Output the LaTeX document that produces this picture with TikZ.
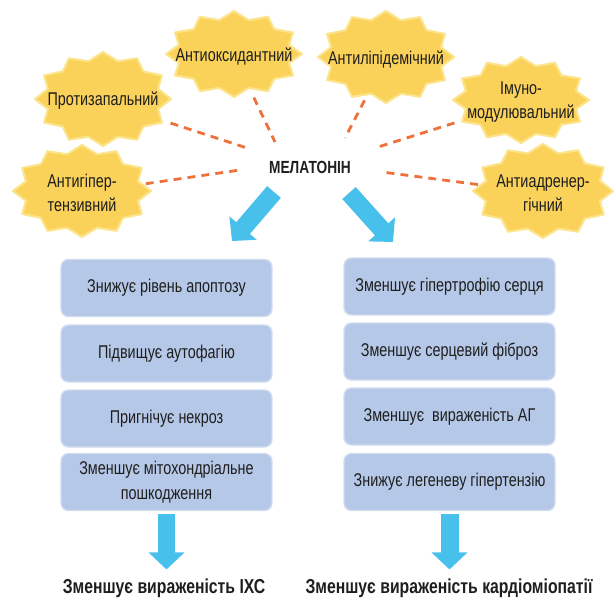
\documentclass[tikz,border=0pt]{standalone}
\usepackage{fontspec}
\setmainfont{Liberation Sans}[FakeStretch=0.78]
\usetikzlibrary{shapes.geometric,arrows.meta}

\definecolor{zirka}{RGB}{250,210,90}
\definecolor{zirkakrai}{RGB}{252,228,140}
\definecolor{punktyr}{RGB}{238,112,58}
\definecolor{blakyt}{RGB}{72,192,236}
\definecolor{blok}{RGB}{182,200,231}
\definecolor{blokkrai}{RGB}{208,220,240}
\definecolor{tekst}{RGB}{30,30,30}

\tikzset{
  zirkastil/.style={fill=zirka, draw=zirkakrai, line width=1.2pt, line join=round},
  zirkatekst/.style={ellipse, minimum width=2.6cm, minimum height=1.7cm, inner sep=0pt,
    align=center, text=tekst, font=\fontsize{10.5}{13.5}\selectfont},
  dii/.style={draw=punktyr, line width=1.6pt, dash pattern=on 4.5pt off 3.5pt},
  blokbox/.style={rectangle, rounded corners=0.15cm, fill=blok, draw=blokkrai,
    line width=0.8pt, minimum width=4.22cm, minimum height=1.14cm, align=center,
    text=tekst, font=\fontsize{10.5}{14.5}\selectfont},
  strilka/.style={draw=blakyt, line width=0.36cm, -{Triangle[width=0.7cm,length=0.34cm]}},
  pidsumok/.style={inner sep=0pt, text=tekst, font=\fontsize{11.5}{14}\bfseries\selectfont}
}

\begin{document}
\begin{tikzpicture}[x=0.02cm, y=-0.02cm]
  \useasboundingbox (0,0) rectangle (616,599);

  % Зірки з властивостями
  \foreach \n/\cx/\cy/\rx/\ry/\txt in {
      antiox/234/54/68/43/{Антиоксидантний},
      antilip/386/57/68/46/{Антиліпідемічний},
      protiz/103/99/68/47/{Протизапальний},
      imuno/521/100/68/43/{Імуно-\\модулювальний},
      antigip/82/191/69/46/{Антигіпер-\\тензивний},
      antiadr/543/191/70/47/{Антиадренер-\\гічний}} {
    \filldraw[zirkastil] plot[variable=\t, samples at={0,...,23}]
      ({\cx+(\rx-11*mod(\t,2))*cos(15*\t)}, {\cy+(\ry-8*mod(\t,2))*sin(15*\t)}) -- cycle;
    \node[zirkatekst] (\n) at (\cx,\cy+2) {\txt};
  }

  % Центр
  \node[text=tekst, font=\fontsize{10}{12}\bfseries\selectfont] (mel) at (310,167) {МЕЛАТОНІН};

  % Пунктирні лінії до центру
  \coordinate (k1) at (240,170);
  \coordinate (k2) at (247,148);
  \coordinate (k3) at (275,142);
  \coordinate (k4) at (345,138);
  \coordinate (k5) at (378,147);
  \coordinate (k6) at (382,172);
  \draw[dii] (antigip) -- (k1);
  \draw[dii] (protiz) -- (k2);
  \draw[dii] (antiox) -- (k3);
  \draw[dii] (antilip) -- (k4);
  \draw[dii] (imuno) -- (k5);
  \draw[dii] (antiadr) -- (k6);

  % Ліва колонка
  \node[blokbox] (l1) at (166.5,288)   {Знижує рівень апоптозу};
  \node[blokbox] (l2) at (166.5,353.5) {Підвищує аутофагію};
  \node[blokbox] (l3) at (166.5,418.5) {Пригнічує некроз};
  \node[blokbox] (l4) at (166.5,482)   {Зменшує мітохондріальне\\пошкодження};

  % Права колонка
  \node[blokbox] (r1) at (449.5,286.5) {Зменшує гіпертрофію серця};
  \node[blokbox] (r2) at (449.5,351.5) {Зменшує серцевий фіброз};
  \node[blokbox] (r3) at (449.5,416.5) {Зменшує~ вираженість АГ};
  \node[blokbox] (r4) at (449.5,482)   {Знижує легеневу гіпертензію};

  % Підсумки
  \node[pidsumok] (lres) at (164,588) {Зменшує вираженість ІХС};
  \node[pidsumok] (rres) at (449,588) {Зменшує вираженість кардіоміопатії};

  % Сині стрілки
  \coordinate (ls) at (274,192);
  \coordinate (lt) at (232,241);
  \coordinate (rs) at (349,193);
  \coordinate (rt) at (393,242);
  \draw[strilka] (ls) -- (lt);
  \draw[strilka] (rs) -- (rt);
  \draw[strilka, shorten <=1.7pt, shorten >=5pt] (l4.south) -- (l4.south |- lres.north);
  \draw[strilka, shorten <=1.7pt, shorten >=5pt] (r4.south) -- (r4.south |- rres.north);
\end{tikzpicture}
\end{document}
